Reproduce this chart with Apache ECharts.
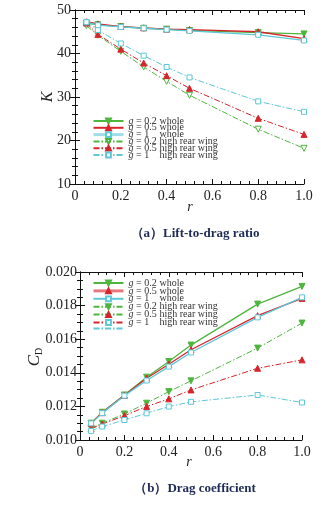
<!DOCTYPE html>
<html>
<head>
<meta charset="utf-8">
<script src="https://cdn.jsdelivr.net/npm/echarts@6/dist/echarts.min.js"></script>
<style>
  html, body { margin: 0; padding: 0; background: #fff; }
  #chart { width: 333px; height: 505px; }
</style>
</head>
<body>
<div id="chart"></div>
<script>
// r values (x axis, shared by both panels)
const rVals = [0.05, 0.1, 0.2, 0.3, 0.4, 0.5, 0.8, 1.0];

// (a) lift-to-drag ratio K
const kWhole02 = [47.0, 46.6, 46.2, 45.8, 45.6, 45.3, 44.8, 44.5];
const kWhole05 = [47.3, 46.8, 46.2, 45.9, 45.6, 45.5, 45.0, 43.4];
const kWhole1 = [47.2, 46.5, 46.1, 45.8, 45.5, 45.2, 44.3, 43.0];
const kHigh02 = [46.4, 44.2, 40.5, 36.9, 33.6, 30.4, 22.6, 18.2];
const kHigh05 = [47.0, 44.4, 41.0, 37.8, 34.9, 32.0, 25.1, 21.4];
const kHigh1 = [47.2, 45.4, 42.3, 39.5, 36.9, 34.5, 29.0, 26.6];

// (b) drag coefficient CD
const cdWhole02 = [0.0110, 0.01165, 0.01268, 0.01374, 0.01467, 0.01565, 0.01809, 0.01914];
const cdWhole05 = [0.0110, 0.01163, 0.01266, 0.01368, 0.01451, 0.01537, 0.01740, 0.01843];
const cdWhole1 = [0.01099, 0.0116, 0.01264, 0.01354, 0.01437, 0.01521, 0.01730, 0.01849];
const cdHigh02 = [0.0107, 0.0110, 0.01155, 0.01219, 0.01288, 0.01352, 0.01547, 0.01696];
const cdHigh05 = [0.01066, 0.01095, 0.01145, 0.01199, 0.01245, 0.01298, 0.01427, 0.01477];
const cdHigh1 = [0.01054, 0.0108, 0.01119, 0.01159, 0.01199, 0.01227, 0.01268, 0.01223];

// tick labels
const xTicks = ["0", "0.2", "0.4", "0.6", "0.8", "1.0"];
const kTicks = ["10", "20", "30", "40", "50"];
const cdTicks = ["0.010", "0.012", "0.014", "0.016", "0.018", "0.020"];

const legendNames = [
  "g = 0.2 whole", "g = 0.5 whole", "g = 1 whole",
  "g = 0.2 high rear wing", "g = 0.5 high rear wing", "g = 1 high rear wing"
];

const GREEN = "rgb(78,182,62)";
const RED = "rgb(214,38,44)";
const CYAN = "rgb(92,200,216)";
const SERIF = "Liberation Serif";
const TRI_DOWN = "path://M0,0 L10,0 L5,9 Z";
const DASHDOT = [6, 2, 1.5, 2];

const pairs = (arr) => rVals.map((r, i) => [r, arr[i]]);

let legendFormatter = (name) => {
  let parts = name.split(" ");
  // g = 0.2 whole -> italic g, fixed width number so "whole" lines up
  return "{i|g}{n| = " + parts[2] + "}{t|" + parts.slice(3).join(" ") + "}";
};

let makeRich = () => ({
  i: { fontStyle: "italic", fontFamily: SERIF, fontSize: 10, color: "#333" },
  n: { width: 26, fontFamily: SERIF, fontSize: 10, color: "#333" },
  t: { fontFamily: SERIF, fontSize: 10, color: "#333" },
});

let makeSeries = (name, arr, xi, color, symbol, fill, dashed) => {
  return {
    name: name,
    type: "line",
    xAxisIndex: xi,
    yAxisIndex: xi,
    data: pairs(arr),
    symbol: symbol,
    symbolSize: symbol === "rect" ? 5 : 6,
    lineStyle: { color: color, width: dashed ? 1 : 1.3, type: dashed ? DASHDOT : "solid" },
    itemStyle: { color: fill, borderColor: color, borderWidth: 1 },
    emphasis: { disabled: true },
    z: dashed ? 3 : 4,
  };
};

let xAxisPair = (gridIndex) => {
  let base = {
    type: "value",
    gridIndex: gridIndex,
    min: 0,
    max: 1,
    interval: 0.2,
    axisLine: { show: true, lineStyle: { color: "#111", width: 1 } },
    axisTick: { show: true, inside: true, length: 5, lineStyle: { color: "#111" } },
    minorTick: { show: true, splitNumber: 5, length: 3, lineStyle: { color: "#111" } },
    splitLine: { show: false },
  };
  return [
    Object.assign({}, base, {
      position: "bottom",
      axisLabel: {
        margin: 5,
        fontFamily: SERIF,
        fontSize: 14,
        color: "#222",
        formatter: (v) => xTicks[Math.round(v / 0.2)],
      },
    }),
    Object.assign({}, base, { position: "top", axisLabel: { show: false } }),
  ];
};

let xAxes = xAxisPair(0).concat(xAxisPair(1));

let yAxisBase = (gridIndex, min, max, interval, minorSplit) => ({
  type: "value",
  gridIndex: gridIndex,
  min: min,
  max: max,
  interval: interval,
  axisLine: { show: true, lineStyle: { color: "#111", width: 1 } },
  axisTick: { show: true, inside: true, length: 5, lineStyle: { color: "#111" } },
  minorTick: { show: true, splitNumber: minorSplit, length: 3, lineStyle: { color: "#111" } },
  splitLine: { show: false },
});

let yAxes = [
  Object.assign(yAxisBase(0, 10, 50, 10, 5), {
    position: "left",
    axisLabel: {
      margin: 4,
      fontFamily: SERIF,
      fontSize: 14,
      color: "#222",
      formatter: (v) => kTicks[Math.round((v - 10) / 10)],
    },
  }),
  Object.assign(yAxisBase(0, 10, 50, 10, 5), { position: "right", axisLabel: { show: false } }),
  Object.assign(yAxisBase(1, 0.010, 0.020, 0.002, 4), {
    position: "left",
    axisLabel: {
      margin: 3,
      fontFamily: SERIF,
      fontSize: 14,
      color: "#222",
      formatter: (v) => cdTicks[Math.round((v - 0.010) / 0.002)],
    },
  }),
  Object.assign(yAxisBase(1, 0.010, 0.020, 0.002, 4), { position: "right", axisLabel: { show: false } }),
];

let series = [
  makeSeries(legendNames[0], kWhole02, 0, GREEN, TRI_DOWN, GREEN, false),
  makeSeries(legendNames[1], kWhole05, 0, RED, "triangle", RED, false),
  makeSeries(legendNames[2], kWhole1, 0, CYAN, "rect", "#fff", false),
  makeSeries(legendNames[3], kHigh02, 0, GREEN, TRI_DOWN, "#fff", true),
  makeSeries(legendNames[4], kHigh05, 0, RED, "triangle", RED, true),
  makeSeries(legendNames[5], kHigh1, 0, CYAN, "rect", "#fff", true),
  // panel (b) uses the same names but with a "b:" prefix so each legend picks its own
  makeSeries("b:" + legendNames[0], cdWhole02, 2, GREEN, TRI_DOWN, GREEN, false),
  makeSeries("b:" + legendNames[1], cdWhole05, 2, RED, "triangle", RED, false),
  makeSeries("b:" + legendNames[2], cdWhole1, 2, CYAN, "rect", "#fff", false),
  makeSeries("b:" + legendNames[3], cdHigh02, 2, GREEN, TRI_DOWN, GREEN, true),
  makeSeries("b:" + legendNames[4], cdHigh05, 2, RED, "triangle", RED, true),
  makeSeries("b:" + legendNames[5], cdHigh1, 2, CYAN, "rect", "#fff", true),
  // empty entry that shows up as a bare line at the end of legend (b)
  {
    name: "b:extra",
    type: "line",
    xAxisIndex: 2,
    yAxisIndex: 2,
    data: [],
    symbol: "none",
    lineStyle: { color: CYAN, width: 1, type: DASHDOT },
    itemStyle: { color: "rgba(0,0,0,0)", borderColor: "rgba(0,0,0,0)" },
  },
];

let legendA = {
  orient: "vertical",
  left: 92,
  top: 116,
  itemWidth: 30,
  itemHeight: 6,
  itemGap: -3.2,
  padding: 0,
  selectedMode: false,
  data: legendNames.map((n, i) => ({
    name: n,
    lineStyle: i === 2 ? { width: 3, color: "rgb(160,222,232)" } : undefined,
  })),
  formatter: legendFormatter,
  textStyle: { fontFamily: SERIF, fontSize: 10, color: "#333", rich: makeRich() },
};

let legendB = {
  orient: "vertical",
  left: 92,
  top: 278,
  itemWidth: 30,
  itemHeight: 6,
  itemGap: -2.1,
  padding: 0,
  selectedMode: false,
  data: [
    { name: "b:" + legendNames[0] },
    { name: "b:" + legendNames[1], lineStyle: { width: 3, color: "rgb(232,120,124)" } },
    { name: "b:" + legendNames[2] },
    { name: "b:" + legendNames[3] },
    { name: "b:" + legendNames[4], lineStyle: { color: GREEN } },
    { name: "b:" + legendNames[5], lineStyle: { color: RED }, itemStyle: { color: "#fff", borderColor: CYAN } },
    { name: "b:extra", itemStyle: { color: "rgba(0,0,0,0)", borderColor: "rgba(0,0,0,0)" } },
  ],
  formatter: (name) => (name === "b:extra" ? "" : legendFormatter(name.slice(2))),
  textStyle: { fontFamily: SERIF, fontSize: 10, color: "#333", rich: makeRich() },
};

// axis names placed as plain text (v6 pushes axis names away from the tick labels)
let axisNames = [
  {
    type: "text",
    x: 48,
    y: 97,
    rotation: Math.PI / 2,
    style: { text: "K", font: "italic 16px " + SERIF, fill: "#222", align: "center", verticalAlign: "middle" },
  },
  {
    type: "text",
    x: 190,
    y: 207,
    style: { text: "r", font: "italic 14px " + SERIF, fill: "#222", align: "center", verticalAlign: "middle" },
  },
  {
    type: "text",
    x: 35,
    y: 357,
    rotation: Math.PI / 2,
    style: {
      text: "{c|C}{d|D}",
      align: "center",
      verticalAlign: "middle",
      rich: {
        c: { fontFamily: SERIF, fontStyle: "italic", fontSize: 17, fill: "#222" },
        d: { fontFamily: SERIF, fontSize: 10, fill: "#222", verticalAlign: "bottom", padding: [8, 0, 0, 0] },
      },
    },
  },
  {
    type: "text",
    x: 189,
    y: 462,
    style: { text: "r", font: "italic 14px " + SERIF, fill: "#222", align: "center", verticalAlign: "middle" },
  },
];

let myEchart = echarts.init(document.getElementById("chart"), null, { renderer: "canvas" });
myEchart.setOption({
  backgroundColor: "#fff",
  animation: false,
  grid: [
    { left: 75, right: 29, top: 10, height: 174 },
    { left: 80, right: 31, top: 272, height: 168 },
  ],
  xAxis: xAxes,
  yAxis: yAxes,
  legend: [legendA, legendB],
  series: series,
  graphic: axisNames,
  title: [
    {
      text: "（a）Lift-to-drag ratio",
      left: 190,
      top: 222,
      textAlign: "center",
      textStyle: { fontFamily: SERIF, fontSize: 13, fontWeight: "bold", color: "#1e2a55" },
    },
    {
      text: "（b）Drag coefficient",
      left: 190,
      top: 477,
      textAlign: "center",
      textStyle: { fontFamily: SERIF, fontSize: 13, fontWeight: "bold", color: "#1e2a55" },
    },
  ],
});
</script>
</body>
</html>
